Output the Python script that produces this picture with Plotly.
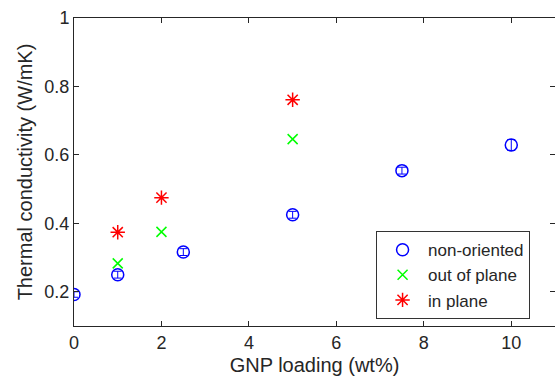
import plotly.graph_objects as go

x_non = [0, 1, 2.5, 5, 7.5, 10]
y_non = [0.192, 0.250, 0.316, 0.425, 0.554, 0.629]
e_non = [0.008, 0.010, 0.010, 0.010, 0.010, 0.016]

x_out = [1, 2, 5]
y_out = [0.283, 0.375, 0.646]

x_in = [1, 2, 5]
y_in = [0.374, 0.475, 0.761]

font = "Liberation Sans, Arial, sans-serif"
axc = "#262626"

fig = go.Figure()
fig.add_trace(go.Scatter(
    x=x_non, y=y_non, mode="markers", name="non-oriented",
    error_y=dict(type="data", array=e_non, color="#0000ff", thickness=1, width=4),
    marker=dict(symbol="circle-open", size=12, color="#0000ff", line=dict(width=1.5, color="#0000ff"))))
fig.add_trace(go.Scatter(
    x=x_out, y=y_out, mode="markers", name="out of plane",
    marker=dict(symbol="x-thin-open", size=10, color="#00ff00", line=dict(width=1.5, color="#00ff00"))))
fig.add_trace(go.Scatter(
    x=x_in, y=y_in, mode="markers", name="in plane",
    marker=dict(symbol="asterisk-open", size=12, color="#ff0000", line=dict(width=1.5, color="#ff0000"))))

fig.update_layout(
    width=555, height=387,
    margin=dict(l=74, r=0, t=18, b=61, autoexpand=False),
    paper_bgcolor="white", plot_bgcolor="white",
    font=dict(family=font, size=18, color=axc),
    showlegend=True,
    legend=dict(x=0.628, y=0.308, xanchor="left", yanchor="top",
                bgcolor="white", bordercolor="#333333", borderwidth=1,
                font=dict(size=17, color="#262626"), itemwidth=41,
                tracegroupgap=0),
)
fig.update_xaxes(range=[0, 11], tickvals=[0, 2, 4, 6, 8, 10], ticks="inside", ticklen=5,
                 showline=True, linecolor=axc, linewidth=1, mirror="ticks", showgrid=False,
                 zeroline=False, tickcolor=axc, automargin=False,
                 title=dict(text="GNP loading (wt%)", font=dict(size=20), standoff=6))
fig.update_yaxes(range=[0.1, 1], tickvals=[0.2, 0.4, 0.6, 0.8, 1], ticktext=["0.2", "0.4", "0.6", "0.8", "1"],
                 ticks="inside", ticklen=5,
                 showline=True, linecolor=axc, linewidth=1, mirror="ticks", showgrid=False,
                 zeroline=False, tickcolor=axc, automargin=False,
                 title=dict(text="Thermal conductivity (W/mK)", font=dict(size=20), standoff=6))

fig.write_html("out.html", config={"displayModeBar": False},
               post_script="document.body.style.margin='0';")
